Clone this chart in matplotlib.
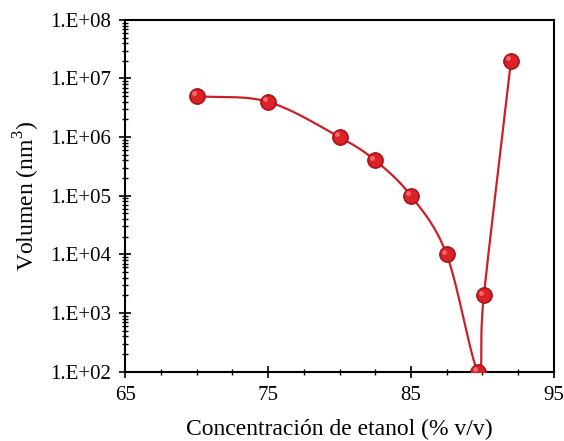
import numpy as np
import matplotlib.pyplot as plt
from matplotlib.ticker import FixedLocator, LogLocator, NullFormatter

# data
etanol = [70, 75, 80, 82.5, 85, 87.5, 89.7, 90.1, 92]
volumen = [5e6, 4e6, 1e6, 4e5, 1e5, 1e4, 1e2, 2e3, 2e7]
y_ticks = [1e2, 1e3, 1e4, 1e5, 1e6, 1e7, 1e8]
y_labels = ["1.E+02", "1.E+03", "1.E+04", "1.E+05", "1.E+06", "1.E+07", "1.E+08"]
x_ticks = [65, 75, 85, 95]

plt.rcParams['font.family'] = ['Liberation Serif', 'DejaVu Serif']
plt.rcParams['mathtext.fontset'] = 'custom'
plt.rcParams['mathtext.rm'] = 'Liberation Serif'


def smooth(x, y, n=40):
    # Catmull-Rom style smoothing (like the spreadsheet's smoothed line), in log space
    x = np.asarray(x, float)
    y = np.log10(np.asarray(y, float))
    px = np.concatenate([[2 * x[0] - x[1]], x, [2 * x[-1] - x[-2]]])
    py = np.concatenate([[2 * y[0] - y[1]], y, [2 * y[-1] - y[-2]]])
    xs, ys = [], []
    t = np.linspace(0, 1, n)
    for i in range(1, len(px) - 2):
        for p, out in ((px, xs), (py, ys)):
            p0, p1, p2, p3 = p[i - 1], p[i], p[i + 1], p[i + 2]
            m1 = (p2 - p0) / 6
            m2 = (p3 - p1) / 6
            b = ((1 - t) ** 3 * p1 + 3 * (1 - t) ** 2 * t * (p1 + m1)
                 + 3 * (1 - t) * t ** 2 * (p2 - m2) + t ** 3 * p2)
            out.extend(b)
    return np.array(xs), 10 ** np.array(ys)


fig, ax = plt.subplots(figsize=(5.64, 4.41), dpi=100)
fig.subplots_adjust(left=0.222, right=0.982, top=0.955, bottom=0.157)

sx, sy = smooth(etanol, volumen)
ax.plot(sx, sy, color='#cc1f2a', lw=1.6, zorder=2)

# sphere-like markers: dark base, red body, light highlight
ax.plot(etanol, volumen, 'o', ms=11.5, color='#b0141a', mec='#9a0f14', mew=0.5, zorder=3)
ax.plot(etanol, volumen, 'o', ms=9.5, color='#dc2228', mew=0, zorder=4)
hx = np.array(etanol) - 0.2
hy = np.array(volumen) * 10 ** 0.05
ax.plot(hx, hy, 'o', ms=3.5, color='#f27c7c', mew=0, alpha=0.8, zorder=5)

ax.set_yscale('log')
ax.set_xlim(65, 95)
ax.set_ylim(1e2, 1e8)
ax.set_xticks(x_ticks)
ax.xaxis.set_minor_locator(FixedLocator(np.arange(65, 95.1, 2.5)))
ax.set_yticks(y_ticks)
ax.set_yticklabels(y_labels)
ax.yaxis.set_minor_locator(LogLocator(base=10, subs=np.arange(2, 10)))
ax.yaxis.set_minor_formatter(NullFormatter())

ax.tick_params(axis='both', which='major', direction='inout', length=8, width=1.2,
               labelsize=15, colors='black')
ax.tick_params(axis='both', which='minor', direction='inout', length=4, width=1.0)
ax.tick_params(axis='y', which='major', pad=6)
ax.tick_params(axis='x', which='major', pad=6)
for s in ax.spines.values():
    s.set_linewidth(1.5)

ax.set_xlabel('Concentración de etanol (% v/v)', fontsize=17, labelpad=10)
ax.set_ylabel('Volumen (nm$^{3}$)', fontsize=17, labelpad=6)

fig.savefig('out.png', dpi=100)
